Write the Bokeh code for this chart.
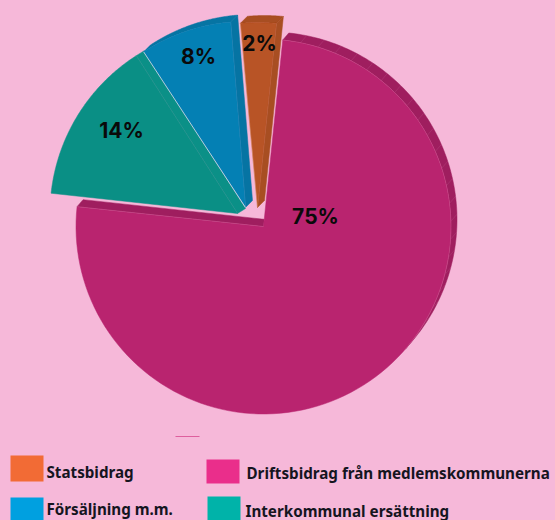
import math
from bokeh.plotting import figure
from bokeh.models import Range1d
from bokeh.embed import file_html
from bokeh.resources import INLINE
from bokeh.core.properties import value

# data
categories = ["Driftsbidrag från medlemskommunerna", "Interkommunal ersättning", "Försäljning m.m.", "Statsbidrag"]
shares = [75.05, 14.2, 7.95, 3.1]          # drawn share of the circle, percent
labels = ["75%", "14%", "8%", "2%"]
front_colors = ["#b9246f", "#0a8f85", "#0480b4", "#b85426"]
side_colors = ["#9f1e5f", "#0b9087", "#0674a3", "#a84e22"]
legend_order = ["Statsbidrag", "Driftsbidrag från medlemskommunerna", "Försäljning m.m.", "Interkommunal ersättning"]
legend_colors = ["#f26b35", "#ea2e8b", "#00a0e0", "#00b3a9"]

BG = "#f6b8d9"
W, H = 555, 520
p = figure(width=W, height=H, output_backend="svg", toolbar_location=None,
           x_range=Range1d(0, 555), y_range=Range1d(520, 0),
           background_fill_color=BG, border_fill_color=BG, outline_line_color=None,
           min_border=0)
p.axis.visible = False
p.grid.visible = False

# layout of each exploded wedge: apex, radius, start angle (deg clockwise from top)
apex = [(263, 226), (237, 213), (245, 207), (257, 207)]
radius = [187.5, 187.5, 186, 185]
start = [5.9, 276.2, 326.8, 354.7]
offset = [(6, -7), (8, -5), (7, -7), (7, -7)]
label_xy = [(315, 216), (121, 130), (198, 56), (259, 43)]


def pt(c, r, a):
    t = math.radians(a)
    return c[0] + r * math.sin(t), c[1] - r * math.cos(t)


def arc(c, r, a0, a1, n=120):
    return [pt(c, r, a0 + (a1 - a0) * i / n) for i in range(n + 1)]


def poly(points, color):
    p.patch([q[0] for q in points], [q[1] for q in points], fill_color=color,
            line_color=color, line_width=0.5)


def hair(a, b, alpha=0.35, color="#ffffff", width=0.6):
    p.line([a[0], b[0]], [a[1], b[1]], line_color=color, line_alpha=alpha, line_width=width)


for i, share in enumerate(shares):
    c, r, s, d = apex[i], radius[i], start[i], offset[i]
    e = s + share * 3.6
    back = (c[0] + d[0], c[1] + d[1])

    # outer rim between the front arc and the displaced arc
    rim_end = s + 125 if i == 0 else e
    if i != 1:
        poly(arc(c, r, s, rim_end) + arc(back, r, s, rim_end)[::-1], side_colors[i])
        if i == 0:
            for k in range(1, 60):
                a = s + k * 5.5
                if a < rim_end:
                    hair(pt(c, r, a), pt(back, r, a), alpha=0.18, color=BG)

    # flat side faces
    if i == 0:
        t = math.radians(s)
        stop = (c[0] + 7.2 * math.sin(t), c[1] - 7.2 * math.cos(t))
        poly([pt(c, r, e), pt(back, r, e), stop, c], side_colors[i])
    else:
        poly([c, back, pt(back, r, e), pt(c, r, e)], side_colors[i])
        hair(c, pt(c, r, e), alpha=0.3, color=BG)

    # front face
    poly([c] + arc(c, r, s, e), front_colors[i])
    if i == 0:
        hair(pt(c, r, e), c, alpha=0.3, color=BG)

# pale seams along blue and orange
hair(pt(apex[2], radius[2], start[2]), apex[2], alpha=0.75, color="#f0e4ee", width=1)
hair(pt(apex[3], radius[3], start[3]), apex[3], alpha=0.35, color="#f6c8a8", width=0.7)
# rim line on the big slice
rim = arc(apex[0], radius[0], start[0], start[0] + 125)
p.line([q[0] for q in rim], [q[1] for q in rim], line_color="#e27fb0", line_alpha=0.45, line_width=0.6)

# stray sliver under the pie
p.line([175, 199], [436, 436], line_color="#d8488f", line_alpha=0.8, line_width=1)

# value labels
p.text(x=[q[0] for q in label_xy], y=[q[1] for q in label_xy], text=labels,
       text_font=value("Inter"), text_font_size="21px", text_font_style="bold",
       text_color="#0a0a0a", text_align="center", text_baseline="middle")

# legend
box_x = [10, 206, 10, 207]
box_y = [455, 459, 497, 496]
box_h = [26, 24, 23, 24]
p.quad(left=box_x, right=[x + 33 for x in box_x], top=box_y,
       bottom=[y + h for y, h in zip(box_y, box_h)], fill_color=legend_colors, line_color=None)
p.text(x=[46, 246, 46, 245], y=[471, 472, 508, 510], text=legend_order,
       text_font=value("Noto Sans"), text_font_size="15.2px", text_font_style="bold",
       text_color="#15151f", text_align="left", text_baseline="middle")

html = file_html(p, INLINE)
html = html.replace("<head>", "<head><style>html,body{background:%s;overflow:hidden}</style>" % BG, 1)
open("out.html", "w").write(html)
